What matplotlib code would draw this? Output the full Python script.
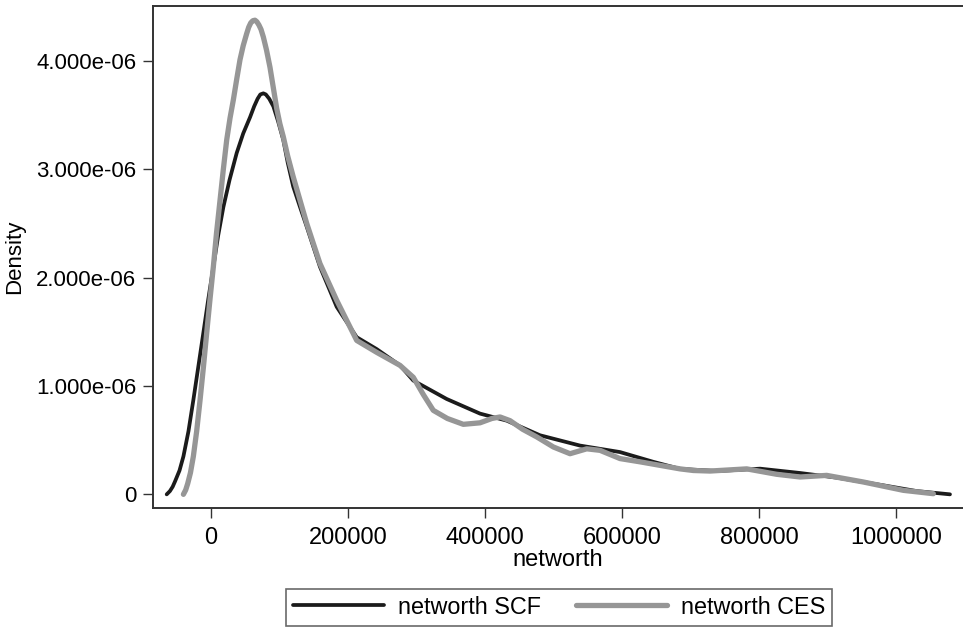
"""
networth 的核密度曲线：SCF 与 CES 对比。

运行：
    python plot.py

生成：
    out.png
"""

import numpy as np
from matplotlib import pyplot as plt

plt.rcParams["font.family"] = ["Liberation Sans", "DejaVu Sans"]

# 曲线点（networth, density，单位 1e-6）
scf_x = [-64700, -60000, -56000, -52500, -46000, -40300, -33000, -25800, -18500, -11200,
         -4000, 3400, 10500, 18000, 27000, 37500, 47000, 57000, 63000, 68000,
         72000, 76400, 80000, 85000, 91000, 98000, 105500, 112000, 120000, 130000,
         139700, 159000, 183500, 212700, 241900, 275900, 295300, 344000, 392700, 431700,
         480300, 538700, 597100, 645700, 684700, 740000, 801500, 859900, 913500, 981600,
         1030300, 1078800]
scf_y = [0.0, 0.03, 0.07, 0.12, 0.22, 0.35, 0.58, 0.87, 1.18, 1.49,
         1.80, 2.10, 2.39, 2.65, 2.90, 3.15, 3.33, 3.48, 3.58, 3.65,
         3.69, 3.70, 3.69, 3.65, 3.58, 3.44, 3.27, 3.06, 2.84, 2.65,
         2.47, 2.10, 1.73, 1.45, 1.34, 1.19, 1.05, 0.88, 0.745, 0.68,
         0.545, 0.45, 0.39, 0.30, 0.235, 0.215, 0.237, 0.197, 0.154, 0.083,
         0.03, 0.0]

ces_x = [-40300, -37000, -34000, -30000, -25800, -21000, -16000, -11000, -6300, -1500,
         3400, 8000, 13100, 18000, 22900, 27700, 32600, 37500, 42300, 47000,
         52000, 55000, 58000, 61000, 64200, 67000, 70000, 73000, 76400, 81000,
         86100, 91000, 95900, 100500, 105500, 112000, 120000, 139700, 159000, 183500,
         212700, 241900, 275900, 295300, 310000, 324500, 345000, 368300, 392700, 410000,
         421900, 436500, 455000, 475500, 499800, 524100, 548500, 567900, 597100, 626300,
         684700, 704100, 728500, 782000, 825800, 859900, 898800, 952300, 1010700, 1054500]
ces_y = [0.0, 0.04, 0.10, 0.20, 0.35, 0.58, 0.87, 1.18, 1.49, 1.80,
         2.10, 2.41, 2.71, 3.00, 3.27, 3.47, 3.64, 3.83, 4.01, 4.14,
         4.25, 4.31, 4.35, 4.37, 4.375, 4.36, 4.33, 4.29, 4.22, 4.10,
         3.94, 3.75, 3.56, 3.42, 3.30, 3.12, 2.93, 2.50, 2.13, 1.79,
         1.42, 1.31, 1.19, 1.08, 0.92, 0.775, 0.70, 0.646, 0.66, 0.70,
         0.714, 0.68, 0.60, 0.53, 0.437, 0.375, 0.42, 0.406, 0.33, 0.30,
         0.235, 0.22, 0.215, 0.235, 0.185, 0.16, 0.175, 0.114, 0.037, 0.006]

x_ticks = [0, 200000, 400000, 600000, 800000, 1000000]
y_ticks = [0, 1e-6, 2e-6, 3e-6, 4e-6]
y_tick_labels = ["0", "1.000e-06", "2.000e-06", "3.000e-06", "4.000e-06"]


def main() -> None:
    fig = plt.figure(figsize=(9.63, 6.3), dpi=100)
    ax = fig.add_axes([153 / 963, 122 / 630, 1 - 153 / 963, 502 / 630])

    ax.plot(scf_x, np.array(scf_y) * 1e-6, color="#1b1b1b", lw=2.7,
            solid_joinstyle="round", solid_capstyle="round", label="networth SCF")
    ax.plot(ces_x, np.array(ces_y) * 1e-6, color="#969696", lw=3.8,
            solid_joinstyle="round", solid_capstyle="round", label="networth CES")

    ax.set_xlim(-84700, 1097800)
    ax.set_ylim(-0.126e-6, 4.506e-6)
    ax.set_xticks(x_ticks)
    ax.set_xticklabels([str(v) for v in x_ticks])
    ax.set_yticks(y_ticks)
    ax.set_yticklabels(y_tick_labels)
    ax.tick_params(length=7, width=1.0, color="#333333")
    ax.tick_params(axis="x", labelsize=17, pad=7)
    ax.tick_params(axis="y", labelsize=16, pad=5)
    for side in ["left", "bottom", "top"]:
        ax.spines[side].set_color("#333333")
        ax.spines[side].set_linewidth(1.4)
    ax.spines["right"].set_visible(False)

    ax.set_xlabel("networth", fontsize=17, labelpad=0)
    ax.set_ylabel("Density", fontsize=16, labelpad=8)

    leg = fig.legend(loc="center", bbox_to_anchor=(0.5805, 0.0365), ncol=2,
                     fontsize=16.8, frameon=True, fancybox=False, handlelength=3.9,
                     handletextpad=0.6, columnspacing=1.5, borderpad=0.3,
                     borderaxespad=0.0)
    leg.get_frame().set_edgecolor("#444444")
    leg.get_frame().set_linewidth(1.2)

    fig.savefig("out.png", dpi=100)
    plt.close(fig)


if __name__ == "__main__":
    main()
